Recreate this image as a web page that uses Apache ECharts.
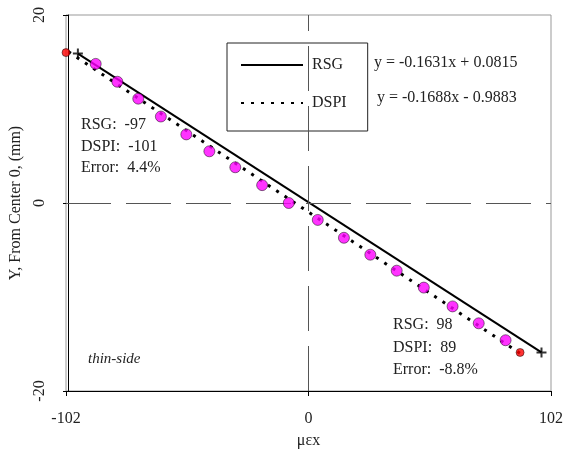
<!DOCTYPE html>
<html>
<head>
<meta charset="utf-8">
<script src="https://cdn.jsdelivr.net/npm/echarts@6/dist/echarts.min.js"></script>
<style>
  html, body { margin: 0; padding: 0; background: #fff; }
  #chart { width: 564px; height: 451px; }
</style>
</head>
<body>
<div id="chart"></div>
<script>
var xRange = [-102, 102];
var yRange = [-20, 20];

// RSG fit line end points (with + markers)
var rsgX = [-97, 98];
var rsgY = [15.9, -15.9];

// DSPI fit line end points
var dspiX = [-101, 89];
var dspiY = [16.1, -16.0];

// DSPI measured points
var pointX = [-89.5, -80.4, -71.6, -62.1, -51.4, -41.7, -30.8, -19.5, -8.3, 3.9, 14.9, 26.0, 37.1, 48.5, 60.6, 71.6, 82.9];
var pointY = [14.8, 12.9, 11.1, 9.2, 7.3, 5.5, 3.8, 1.9, 0.0, -1.8, -3.7, -5.5, -7.2, -9.0, -11.0, -12.8, -14.6];

// end points in red
var endX = [-102, 89];
var endY = [16.0, -15.9];

var equations = ['y = -0.1631x + 0.0815', 'y = -0.1688x - 0.9883'];
var leftNote = ['RSG:  -97', 'DSPI:  -101', 'Error:  4.4%'];
var rightNote = ['RSG:  98', 'DSPI:  89', 'Error:  -8.8%'];

function pairs(xs, ys) {
  return xs.map(function (x, i) { return [x, ys[i]]; });
}

var serif = 'Liberation Serif';
var txt = '#222';
var plus = 'path://M4,0h2v4h4v2h-4v4h-2v-4h-4v-2h4z';

var chart = echarts.init(document.getElementById('chart'));

var graphics = [];
equations.forEach(function (t, i) {
  graphics.push({
    type: 'text', x: i === 0 ? 374 : 377, y: i === 0 ? 63 : 98,
    style: { text: t, font: '16px ' + serif, fill: txt, verticalAlign: 'middle' }
  });
});
leftNote.forEach(function (t, i) {
  graphics.push({
    type: 'text', x: 81, y: 125 + i * 21.5,
    style: { text: t, font: '16px ' + serif, fill: txt, verticalAlign: 'middle' }
  });
});
rightNote.forEach(function (t, i) {
  graphics.push({
    type: 'text', x: 393, y: 325 + i * 22.5,
    style: { text: t, font: '16px ' + serif, fill: txt, verticalAlign: 'middle' }
  });
});
graphics.push({
  type: 'text', x: 88, y: 359,
  style: { text: 'thin-side', font: 'italic 15px ' + serif, fill: txt, verticalAlign: 'middle' }
});

var option = {
  backgroundColor: '#fff',
  animation: false,
  grid: {
    left: 66, right: 13, top: 15, bottom: 60,
    outerBoundsMode: 'none',
    show: true, borderColor: '#999', borderWidth: 1
  },
  legend: {
    data: ['RSG', 'DSPI'],
    orient: 'vertical',
    left: 227, top: 43,
    padding: [14, 21, 20, 13],
    itemWidth: 62, itemHeight: 14, itemGap: 22,
    borderColor: '#222', borderWidth: 1,
    backgroundColor: '#fff',
    itemStyle: { opacity: 0 },
    textStyle: { fontFamily: serif, fontSize: 16, color: txt, padding: [0, 0, 0, 4] }
  },
  xAxis: {
    type: 'value',
    min: xRange[0], max: xRange[1], interval: 102,
    name: 'μεx', nameLocation: 'middle', nameGap: 42,
    nameTextStyle: { fontFamily: serif, fontSize: 16, color: txt },
    axisLine: { onZero: false, lineStyle: { color: '#000', width: 1 } },
    axisTick: { show: true, length: 5, lineStyle: { color: '#000' } },
    axisLabel: { fontFamily: serif, fontSize: 16, color: txt, margin: 20 },
    splitLine: { show: false }
  },
  yAxis: {
    type: 'value',
    min: yRange[0], max: yRange[1], interval: 20,
    offset: -2,
    name: 'Y, From Center 0, (mm)', nameLocation: 'middle', nameGap: 41,
    nameTextStyle: { fontFamily: serif, fontSize: 16, color: txt },
    axisLine: { show: true, onZero: false, lineStyle: { color: '#000', width: 1 } },
    axisTick: { show: true, length: 5, lineStyle: { color: '#000' } },
    axisLabel: { fontFamily: serif, fontSize: 16, color: txt, rotate: 90, margin: 20 },
    splitLine: { show: false }
  },
  graphic: graphics,
  series: [
    {
      name: 'RSG',
      type: 'line',
      data: pairs(rsgX, rsgY),
      symbol: 'none',
      lineStyle: { color: '#000', width: 2 },
      itemStyle: { color: '#000', opacity: 0 },
      z: 3,
      markLine: {
        silent: true,
        symbol: 'none',
        label: { show: false },
        lineStyle: { color: '#555', width: 1, type: [45, 15], opacity: 1 },
        data: [{ xAxis: 0 }, { yAxis: 0 }]
      }
    },
    {
      name: 'DSPI',
      type: 'line',
      data: pairs(dspiX, dspiY),
      symbol: 'none',
      lineStyle: { color: '#000', width: 3, type: [3, 7] },
      itemStyle: { color: '#000', opacity: 0 },
      z: 3
    },
    {
      name: 'RSG ends',
      type: 'scatter',
      data: pairs(rsgX, rsgY),
      symbol: plus,
      symbolSize: 10,
      itemStyle: { color: '#000' },
      z: 4
    },
    {
      name: 'DSPI points',
      type: 'scatter',
      data: pairs(pointX, pointY),
      symbolSize: 11,
      itemStyle: { color: '#ff00ff', borderColor: '#000', borderWidth: 0.6 },
      z: 5
    },
    {
      name: 'DSPI ends',
      type: 'scatter',
      data: pairs(endX, endY),
      symbolSize: 8,
      clip: false,
      itemStyle: { color: '#ff0000', borderColor: '#000', borderWidth: 0.6 },
      z: 5
    }
  ]
};

chart.setOption(option);
</script>
</body>
</html>
